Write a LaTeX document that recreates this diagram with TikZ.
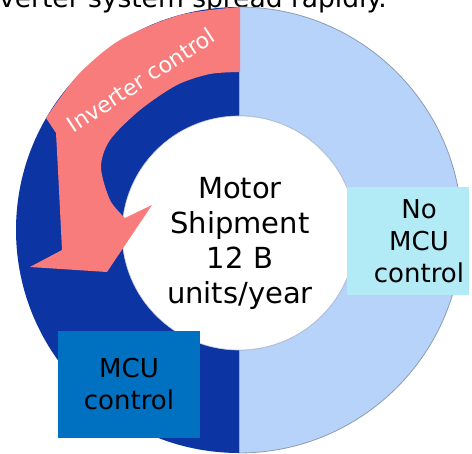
\documentclass[tikz,border=0pt]{standalone}
\usepackage{fontspec}
\setmainfont{DejaVu Sans}
\definecolor{dkblue}{RGB}{12,52,162}
\definecolor{ltblue}{RGB}{184,211,250}
\definecolor{ringedge}{RGB}{140,155,180}
\definecolor{arrowpink}{RGB}{249,124,124}
\definecolor{mcublue}{RGB}{0,112,192}
\definecolor{nomcu}{RGB}{178,234,245}
\begin{document}
\begin{tikzpicture}[x=1pt,y=-1pt,
  lbl/.style={inner sep=0pt,align=center,text=black},
  boxlbl/.style={inner sep=0pt,align=center,text=black}]
\useasboundingbox (0,0) rectangle (472,454);
\clip (0,0) rectangle (472,454);
\coordinate (C) at (239,230);
\coordinate (H) at (239,233);
% title (clipped)
\node[anchor=base west,inner sep=0pt,font=\fontsize{26.5}{30}\selectfont] (title) at (-1,7.5) {verter system spread rapidly.};
% right half ring
\fill[ltblue,draw=ringedge,line width=0.8pt]
  ([shift={(-90:223)}]C) arc[start angle=-90,end angle=90,radius=223]
  -- ([shift={(90:117)}]H) arc[start angle=90,end angle=-90,radius=117] -- cycle;
% left half ring
\fill[dkblue]
  ([shift={(90:223)}]C) arc[start angle=90,end angle=270,radius=223]
  -- ([shift={(270:117)}]H) arc[start angle=270,end angle=90,radius=117] -- cycle;
% hole
\fill[white,draw=ringedge!60,line width=0.6pt] (H) circle[radius=117];
% pink curved arrow
\fill[arrowpink]
  plot[smooth] coordinates {(240,7) (180,15) (120,40) (78,75) (46,118)}
  -- (56,133)
  -- plot[smooth] coordinates {(56,133) (58,170) (60,210) (62,250)}
  -- (30,267) -- (107,272) -- (152,205) -- (125,218)
  -- plot[smooth] coordinates {(125,218) (110,200) (101,167) (110,140) (140,110) (177,85) (210,74) (240,72)}
  -- cycle;
\node[inner sep=0pt,text=white,rotate=33,font=\fontsize{22}{26}\selectfont] (inv) at (141,80) {Inverter control};
% centre text
\node[lbl,font=\fontsize{29}{35}\selectfont] (motor) at (240,243) {Motor\\Shipment\\12 B\\units/year};
% No MCU box
\fill[nomcu] (347,187) rectangle (469,295);
\node[boxlbl,font=\fontsize{26}{32}\selectfont] (nomcu) at (419,241) {No\\MCU\\control};
% MCU box
\node[fill=mcublue,minimum width=142pt,minimum height=107pt,inner sep=0pt,align=center,
  font=\fontsize{26}{32}\selectfont] (mcu) at (129,384.5) {MCU\\control};
\end{tikzpicture}
\end{document}
